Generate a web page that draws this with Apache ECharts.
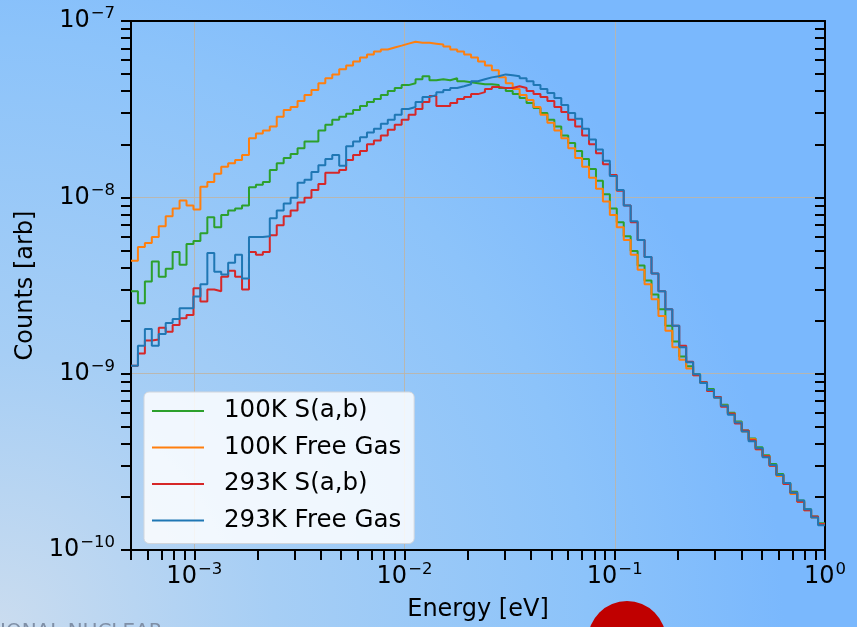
<!DOCTYPE html>
<html>
<head>
<meta charset="utf-8">
<script src="https://cdn.jsdelivr.net/npm/echarts@6/dist/echarts.min.js"></script>
<style>html,body{margin:0;padding:0;}#c{width:857px;height:627px;}</style>
</head>
<body>
<div id="c"></div>
<script>
// Histogram binning (log-spaced bins from 5e-4 eV to 1 eV)
const binMin = 5e-4, binMax = 1, binCount = 100;

// Series values (counts per bin)
const g100Sab = [2.93e-9,2.51e-9,3.33e-9,4.32e-9,3.55e-9,3.94e-9,4.90e-9,4.15e-9,5.43e-9,5.65e-9,
6.26e-9,7.70e-9,6.76e-9,7.94e-9,8.42e-9,8.65e-9,8.99e-9,1.14e-8,1.18e-8,1.22e-8,
1.43e-8,1.56e-8,1.67e-8,1.76e-8,1.90e-8,2.07e-8,2.07e-8,2.39e-8,2.58e-8,2.75e-8,
2.86e-8,2.98e-8,3.13e-8,3.30e-8,3.47e-8,3.61e-8,3.80e-8,4.01e-8,4.17e-8,4.33e-8,
4.44e-8,4.67e-8,4.86e-8,4.61e-8,4.67e-8,4.61e-8,4.73e-8,4.55e-8,4.49e-8,4.44e-8,
4.38e-8,4.38e-8,4.33e-8,4.17e-8,4.01e-8,3.85e-8,3.66e-8,3.43e-8,3.21e-8,3.01e-8,
2.75e-8,2.52e-8,2.24e-8,2.03e-8,1.83e-8,1.65e-8,1.45e-8,1.24e-8,1.04e-8,8.65e-9,
7.22e-9,6.02e-9,4.97e-9,4.10e-9,3.38e-9,2.81e-9,2.32e-9,1.87e-9,1.52e-9,1.25e-9,
1.10e-9,9.92e-10,8.95e-10,8.18e-10,7.38e-10,6.67e-10,6.00e-10,5.35e-10,4.76e-10,4.29e-10,
3.83e-10,3.45e-10,3.07e-10,2.70e-10,2.40e-10,2.14e-10,1.91e-10,1.70e-10,1.55e-10,1.42e-10];

const g100Free = [4.37e-9,5.23e-9,5.50e-9,5.95e-9,6.86e-9,7.80e-9,8.65e-9,9.58e-9,8.99e-9,8.53e-9,
1.15e-8,1.22e-8,1.36e-8,1.49e-8,1.56e-8,1.63e-8,1.74e-8,2.16e-8,2.30e-8,2.39e-8,
2.52e-8,2.86e-8,3.13e-8,3.25e-8,3.52e-8,3.80e-8,4.06e-8,4.44e-8,4.73e-8,4.98e-8,
5.32e-8,5.60e-8,5.90e-8,6.20e-8,6.45e-8,6.71e-8,6.89e-8,7.07e-8,7.25e-8,7.44e-8,
7.63e-8,7.53e-8,7.53e-8,7.44e-8,7.35e-8,7.16e-8,6.89e-8,6.71e-8,6.45e-8,6.20e-8,
5.90e-8,5.60e-8,5.25e-8,4.79e-8,4.44e-8,4.11e-8,3.80e-8,3.57e-8,3.25e-8,2.94e-8,
2.65e-8,2.39e-8,2.16e-8,1.90e-8,1.67e-8,1.49e-8,1.29e-8,1.12e-8,9.46e-9,7.94e-9,
6.76e-9,5.72e-9,4.72e-9,3.89e-9,3.21e-9,2.64e-9,2.12e-9,1.75e-9,1.41e-9,1.20e-9,
1.07e-9,9.79e-10,8.84e-10,7.97e-10,7.29e-10,6.58e-10,5.93e-10,5.28e-10,4.70e-10,4.24e-10,
3.73e-10,3.40e-10,3.00e-10,2.63e-10,2.37e-10,2.08e-10,1.88e-10,1.68e-10,1.53e-10,1.40e-10];

const g293Sab = [1.11e-9,1.30e-9,1.54e-9,1.56e-9,1.82e-9,1.73e-9,1.89e-9,2.06e-9,2.15e-9,3.05e-9,
2.57e-9,3.00e-9,2.93e-9,3.55e-9,3.84e-9,3.55e-9,3.00e-9,4.90e-9,4.72e-9,4.90e-9,
6.10e-9,6.95e-9,7.80e-9,8.42e-9,9.34e-9,9.96e-9,1.10e-8,1.19e-8,1.38e-8,1.38e-8,
1.43e-8,1.63e-8,1.74e-8,1.83e-8,2.00e-8,2.10e-8,2.24e-8,2.42e-8,2.58e-8,2.75e-8,
2.94e-8,3.17e-8,3.47e-8,3.76e-8,3.30e-8,3.30e-8,3.43e-8,3.61e-8,3.71e-8,3.85e-8,
3.95e-8,4.11e-8,4.22e-8,4.17e-8,4.17e-8,4.27e-8,4.17e-8,4.01e-8,3.85e-8,3.71e-8,
3.52e-8,3.25e-8,3.05e-8,2.75e-8,2.52e-8,2.24e-8,2.00e-8,1.78e-8,1.54e-8,1.34e-8,
1.09e-8,8.99e-9,7.22e-9,5.72e-9,4.59e-9,3.70e-9,2.93e-9,2.32e-9,1.87e-9,1.44e-9,
1.17e-9,9.79e-10,8.95e-10,7.97e-10,7.38e-10,6.49e-10,5.93e-10,5.21e-10,4.76e-10,4.19e-10,
3.73e-10,3.40e-10,3.00e-10,2.66e-10,2.37e-10,2.11e-10,1.88e-10,1.68e-10,1.55e-10,1.40e-10];

const g293Free = [1.11e-9,1.44e-9,1.79e-9,1.44e-9,1.68e-9,1.94e-9,2.04e-9,2.35e-9,2.35e-9,2.74e-9,
3.21e-9,4.84e-9,3.79e-9,3.65e-9,4.26e-9,4.72e-9,3.46e-9,5.95e-9,5.95e-9,6.02e-9,
7.60e-9,8.42e-9,9.22e-9,9.96e-9,1.21e-8,1.26e-8,1.39e-8,1.52e-8,1.65e-8,1.74e-8,
1.51e-8,1.95e-8,2.07e-8,2.19e-8,2.33e-8,2.45e-8,2.61e-8,2.75e-8,2.94e-8,3.17e-8,
3.25e-8,3.47e-8,3.71e-8,3.80e-8,3.95e-8,4.06e-8,4.17e-8,4.27e-8,4.38e-8,4.55e-8,
4.67e-8,4.79e-8,4.86e-8,4.98e-8,4.92e-8,4.86e-8,4.73e-8,4.55e-8,4.33e-8,4.11e-8,
3.90e-8,3.66e-8,3.34e-8,3.01e-8,2.79e-8,2.45e-8,2.13e-8,1.87e-8,1.61e-8,1.32e-8,
1.10e-8,8.99e-9,7.32e-9,5.72e-9,4.59e-9,3.70e-9,2.93e-9,2.32e-9,1.87e-9,1.41e-9,
1.16e-9,9.92e-10,8.84e-10,8.07e-10,7.29e-10,6.58e-10,5.85e-10,5.28e-10,4.70e-10,4.14e-10,
3.78e-10,3.36e-10,3.03e-10,2.66e-10,2.40e-10,2.11e-10,1.91e-10,1.70e-10,1.53e-10,1.38e-10];

const seriesNames = ['100K S(a,b)', '100K Free Gas', '293K S(a,b)', '293K Free Gas'];
const seriesColors = ['#2ca02c', '#ff7f0e', '#d62728', '#1f77b4'];

// Tick labels / tick positions
const xMajorTicks = [1e-3, 1e-2, 1e-1, 1];
const yMajorTicks = [1e-10, 1e-9, 1e-8, 1e-7];
const mantissas = [2, 3, 4, 5, 6, 7, 8, 9];
const xAllTicks = [5e-4, 6e-4, 7e-4, 8e-4, 9e-4];
[-3, -2, -1].forEach(k => { xAllTicks.push(Math.pow(10, k)); mantissas.forEach(m => xAllTicks.push(+(m * Math.pow(10, k)).toPrecision(3))); });
xAllTicks.push(1);
const yAllTicks = [];
[-10, -9, -8].forEach(k => { yAllTicks.push(Math.pow(10, k)); mantissas.forEach(m => yAllTicks.push(+(m * Math.pow(10, k)).toPrecision(3))); });
yAllTicks.push(1e-7);
const xGrid = [1e-3, 1e-2, 1e-1];
const yGrid = [1e-9, 1e-8];

const lgMin = Math.log10(binMin), lgMax = Math.log10(binMax);
const binEdges = [];
for (let i = 0; i <= binCount; i++) binEdges.push(Math.pow(10, lgMin + (lgMax - lgMin) * i / binCount));

function histPoints(vals) {
  const pts = vals.map((v, i) => [binEdges[i], v]);
  pts.push([binEdges[vals.length], vals[vals.length - 1]]);
  return pts;
}
const allSeries = [g100Sab, g100Free, g293Sab, g293Free];

const FONT = 'DejaVu Sans';
function powLabel(v) {
  const e = Math.round(Math.log10(v));
  return '{b|10}{s|' + (e < 0 ? '\u2212' + (-e) : e) + '}';
}
const richLbl = {
  b: { fontSize: 24, fontFamily: FONT, color: '#000' },
  s: { fontSize: 16.5, fontFamily: FONT, color: '#000', padding: [0, 0, 14, 1] }
};
const gridColor = 'rgba(190,180,165,0.85)';

const chart = echarts.init(document.getElementById('c'), null, { renderer: 'canvas' });
const axisCommon = { type: 'log', logBase: 10 };
chart.setOption({
  animation: false,
  backgroundColor: {
    type: 'radial', x: 0, y: 1, r: 1.25,
    colorStops: [{ offset: 0, color: '#cadcef' }, { offset: 0.35, color: '#a6cef5' }, { offset: 0.75, color: '#8cc3fa' }, { offset: 1, color: '#7ab8fd' }]
  },
  grid: { left: 131, top: 21, right: 32, bottom: 70, containLabel: false },
  xAxis: [
    Object.assign({}, axisCommon, {
      min: binMin, max: binMax, position: 'bottom',
      name: 'Energy [eV]', nameLocation: 'middle', nameGap: 48,
      nameTextStyle: { fontSize: 24, fontFamily: FONT, color: '#000' },
      axisLine: { show: true, onZero: false, lineStyle: { color: '#000', width: 2 } },
      axisTick: { show: true, inside: false, length: 10, lineStyle: { color: '#000', width: 2 }, customValues: xAllTicks },
      axisLabel: { show: true, margin: 11, customValues: xMajorTicks, formatter: powLabel, rich: richLbl },
      minorTick: { show: false }, splitLine: { show: false }
    }),
    Object.assign({}, axisCommon, {
      min: binMin, max: binMax, position: 'top',
      axisLine: { show: true, onZero: false, lineStyle: { color: '#000', width: 2 } },
      axisTick: { show: false, customValues: xGrid },
      axisLabel: { show: false },
      splitLine: { show: true, lineStyle: { color: gridColor, width: 1 } }
    })
  ],
  yAxis: [
    Object.assign({}, axisCommon, {
      min: 1e-10, max: 1e-7, position: 'left',
      name: 'Counts [arb]', nameLocation: 'middle', nameGap: 86, nameRotate: 90,
      nameTextStyle: { fontSize: 24, fontFamily: FONT, color: '#000' },
      axisLine: { show: true, onZero: false, lineStyle: { color: '#000', width: 2 } },
      axisTick: { show: true, inside: false, length: 10, lineStyle: { color: '#000', width: 2 }, customValues: yAllTicks },
      axisLabel: { show: true, margin: 16, customValues: yMajorTicks, formatter: powLabel, rich: richLbl },
      splitLine: { show: false }
    }),
    Object.assign({}, axisCommon, {
      min: 1e-10, max: 1e-7, position: 'right',
      axisLine: { show: true, onZero: false, lineStyle: { color: '#000', width: 2 } },
      axisTick: { show: true, inside: true, length: 10, lineStyle: { color: '#000', width: 2 }, customValues: yAllTicks },
      axisLabel: { show: false },
      splitLine: { show: false }
    }),
    Object.assign({}, axisCommon, {
      min: 1e-10, max: 1e-7, position: 'left',
      axisLine: { show: false },
      axisTick: { show: false, customValues: yGrid },
      axisLabel: { show: false },
      splitLine: { show: true, lineStyle: { color: gridColor, width: 1 } }
    })
  ],
  legend: {
    left: 144, top: 392, orient: 'vertical',
    data: seriesNames,
    icon: 'rect', itemWidth: 52, itemHeight: 2, itemGap: 9.5,
    padding: [5.5, 13, 9.5, 8],
    backgroundColor: 'rgba(255,255,255,0.84)', borderColor: '#d2d6dc', borderWidth: 1, borderRadius: 5,
    textStyle: { fontSize: 24.5, fontFamily: FONT, color: '#000', lineHeight: 27, padding: [0, 0, 0, 15] }
  },
  series: allSeries.map((vals, i) => ({
    name: seriesNames[i], type: 'line', step: 'end',
    xAxisIndex: 0, yAxisIndex: 0,
    data: histPoints(vals),
    showSymbol: false, symbol: 'none', clip: true,
    color: seriesColors[i],
    lineStyle: { width: 2, color: seriesColors[i] },
    emphasis: { disabled: true }
  })),
  graphic: [
    { type: 'circle', shape: { cx: 627, cy: 640, r: 39 }, style: { fill: '#c00000' }, silent: true },
    { type: 'text', left: 0, top: 622, style: { text: 'IONAL NUCLEAR', fontSize: 20, fontFamily: FONT, fill: '#7f8fa6' }, silent: true }
  ]
});
</script>
</body>
</html>
